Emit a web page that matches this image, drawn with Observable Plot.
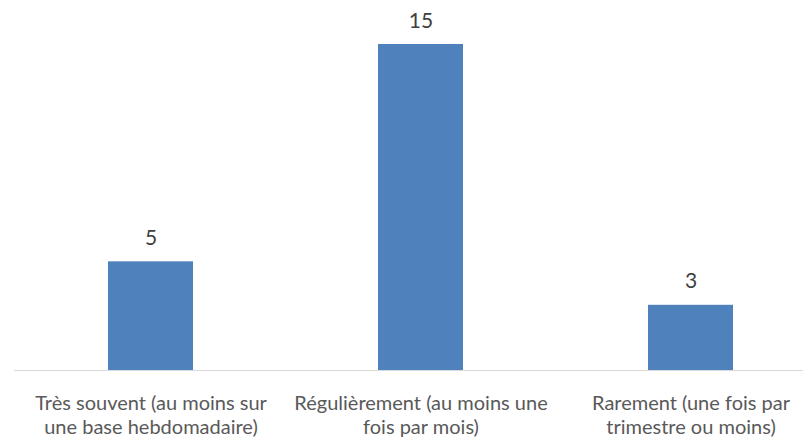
<!DOCTYPE html>
<html>
<head>
<meta charset="utf-8">
<script src="https://cdn.jsdelivr.net/npm/d3@7"></script>
<script src="https://cdn.jsdelivr.net/npm/@observablehq/plot@0.6"></script>
<style>
  html, body { margin: 0; padding: 0; background: #fff; }
  #chart { width: 803px; height: 437px; }
</style>
</head>
<body>
<div id="chart"></div>
<script>
const categories = [
  "Très souvent (au moins sur une base hebdomadaire)",
  "Régulièrement (au moins une fois par mois)",
  "Rarement (une fois par trimestre ou moins)"
];
const tickLabels = [
  "Très souvent (au moins sur\nune base hebdomadaire)",
  "Régulièrement (au moins une\nfois par mois)",
  "Rarement (une fois par\ntrimestre ou moins)"
];
const values = [5, 15, 3];

const data = categories.map((c, i) => ({category: c, value: values[i]}));
const labelOf = new Map(categories.map((c, i) => [c, tickLabels[i]]));

const chart = Plot.plot({
  width: 803,
  height: 437,
  marginLeft: 14,
  marginRight: 0,
  marginTop: 44,
  marginBottom: 67,
  style: {fontFamily: "Lato, sans-serif", color: "#595959", background: "#fff"},
  x: {domain: categories, paddingInner: 0.686, paddingOuter: 0.299, align: 0.574, label: null},
  y: {domain: [0, 15], axis: null},
  marks: [
    Plot.barY(data, {x: "category", y: "value", fill: "#4f81bd"}),
    Plot.ruleY([0], {stroke: "#d9d9d9", strokeWidth: 1}),
    Plot.text(data, {x: "category", y: "value", text: d => String(d.value), dy: -17, lineAnchor: "bottom", fontSize: 21, fill: "#404040"}),
    Plot.axisX({tickSize: 0, tickPadding: 23, tickFormat: d => labelOf.get(d), fontSize: 20, lineHeight: 1.17, fill: "#595959", label: null, lineAnchor: "top"})
  ]
});
document.getElementById("chart").appendChild(chart);
</script>
</body>
</html>
